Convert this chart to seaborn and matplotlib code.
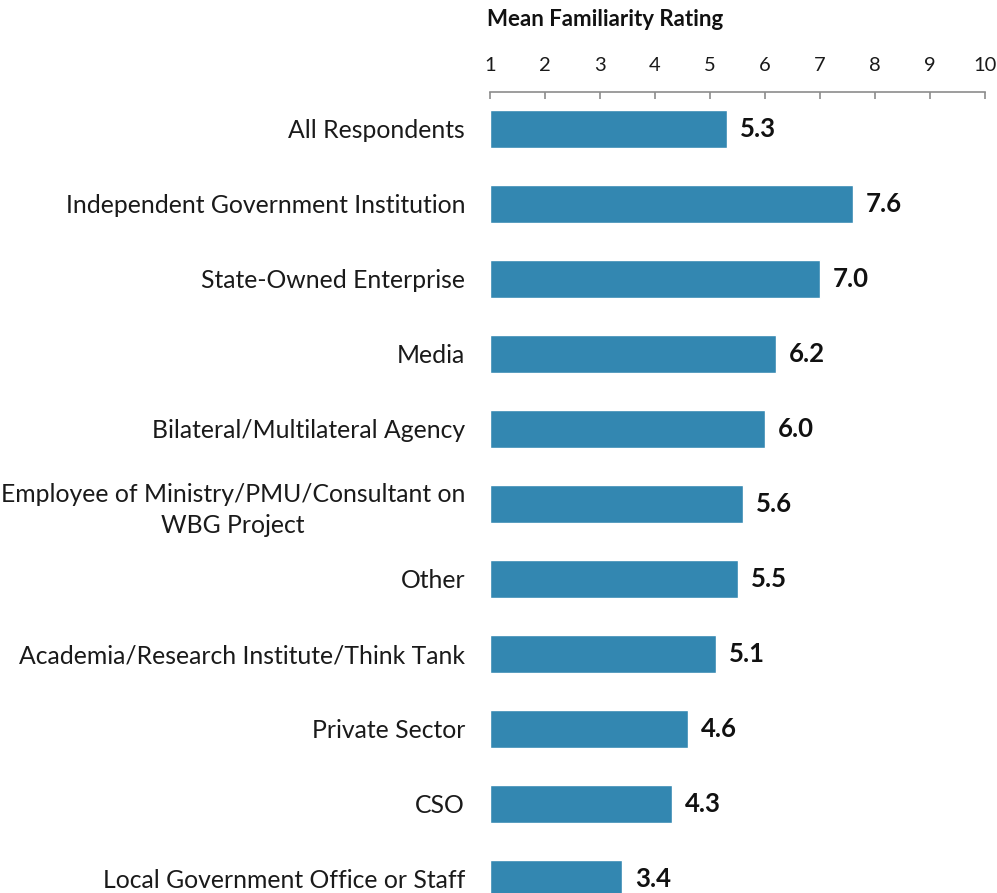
import pandas as pd
import matplotlib
matplotlib.use("Agg")
import matplotlib.pyplot as plt
import seaborn as sns

# Data
groups = [
    "All Respondents",
    "Independent Government Institution",
    "State-Owned Enterprise",
    "Media",
    "Bilateral/Multilateral Agency",
    "Employee of Ministry/PMU/Consultant on\nWBG Project",
    "Other",
    "Academia/Research Institute/Think Tank",
    "Private Sector",
    "CSO",
    "Local Government Office or Staff",
]
ratings = [5.3, 7.6, 7.0, 6.2, 6.0, 5.6, 5.5, 5.1, 4.6, 4.3, 3.4]
ticks = list(range(1, 11))

df = pd.DataFrame({"group": groups, "rating": ratings})

sns.set_style("white")
plt.rcParams["font.family"] = ["Lato", "DejaVu Sans"]

fig = plt.figure(figsize=(9.97, 8.93), dpi=100)
ax = fig.add_axes([490 / 997, 0.0, 495 / 997, 1 - 92 / 893])

bar_color = "#3387B1"
# bars start at 1 (the axis minimum)
sns.barplot(data=df, x="rating", y="group", orient="h", color=bar_color,
            saturation=1, width=0.5, ax=ax, left=1)
for p, r in zip(ax.patches, ratings):
    p.set_width(r - 1)

ax.set_xlim(1, 10)
ax.set_ylim(10.19, -0.493)
ax.set_xticks(ticks)
ax.set_xticklabels([str(t) for t in ticks])
ax.xaxis.tick_top()
ax.tick_params(axis="x", direction="in", length=5, width=1.2, color="#8c8c8c",
               labelsize=14.5, pad=13, labelcolor="#1a1a1a")
ax.tick_params(axis="y", length=0, labelsize=17.8, pad=18, labelcolor="#1a1a1a")
for lab in ax.get_yticklabels():
    lab.set_multialignment("center")
    lab.set_linespacing(1.45)
ax.set_xlabel("")
ax.set_ylabel("")
for s in ["bottom", "left", "right"]:
    ax.spines[s].set_visible(False)
ax.spines["top"].set_color("#8c8c8c")
ax.spines["top"].set_linewidth(1.2)

for i, r in enumerate(ratings):
    ax.text(r + 0.24, i, f"{r:.1f}", va="center", ha="left",
            fontsize=18.5, fontweight="bold", color="#111111")

fig.text(487 / 997, 1 - 20 / 893, "Mean Familiarity Rating", ha="left", va="center",
         fontsize=16, fontweight="bold", color="#111111")

fig.savefig("out.png", dpi=100)
